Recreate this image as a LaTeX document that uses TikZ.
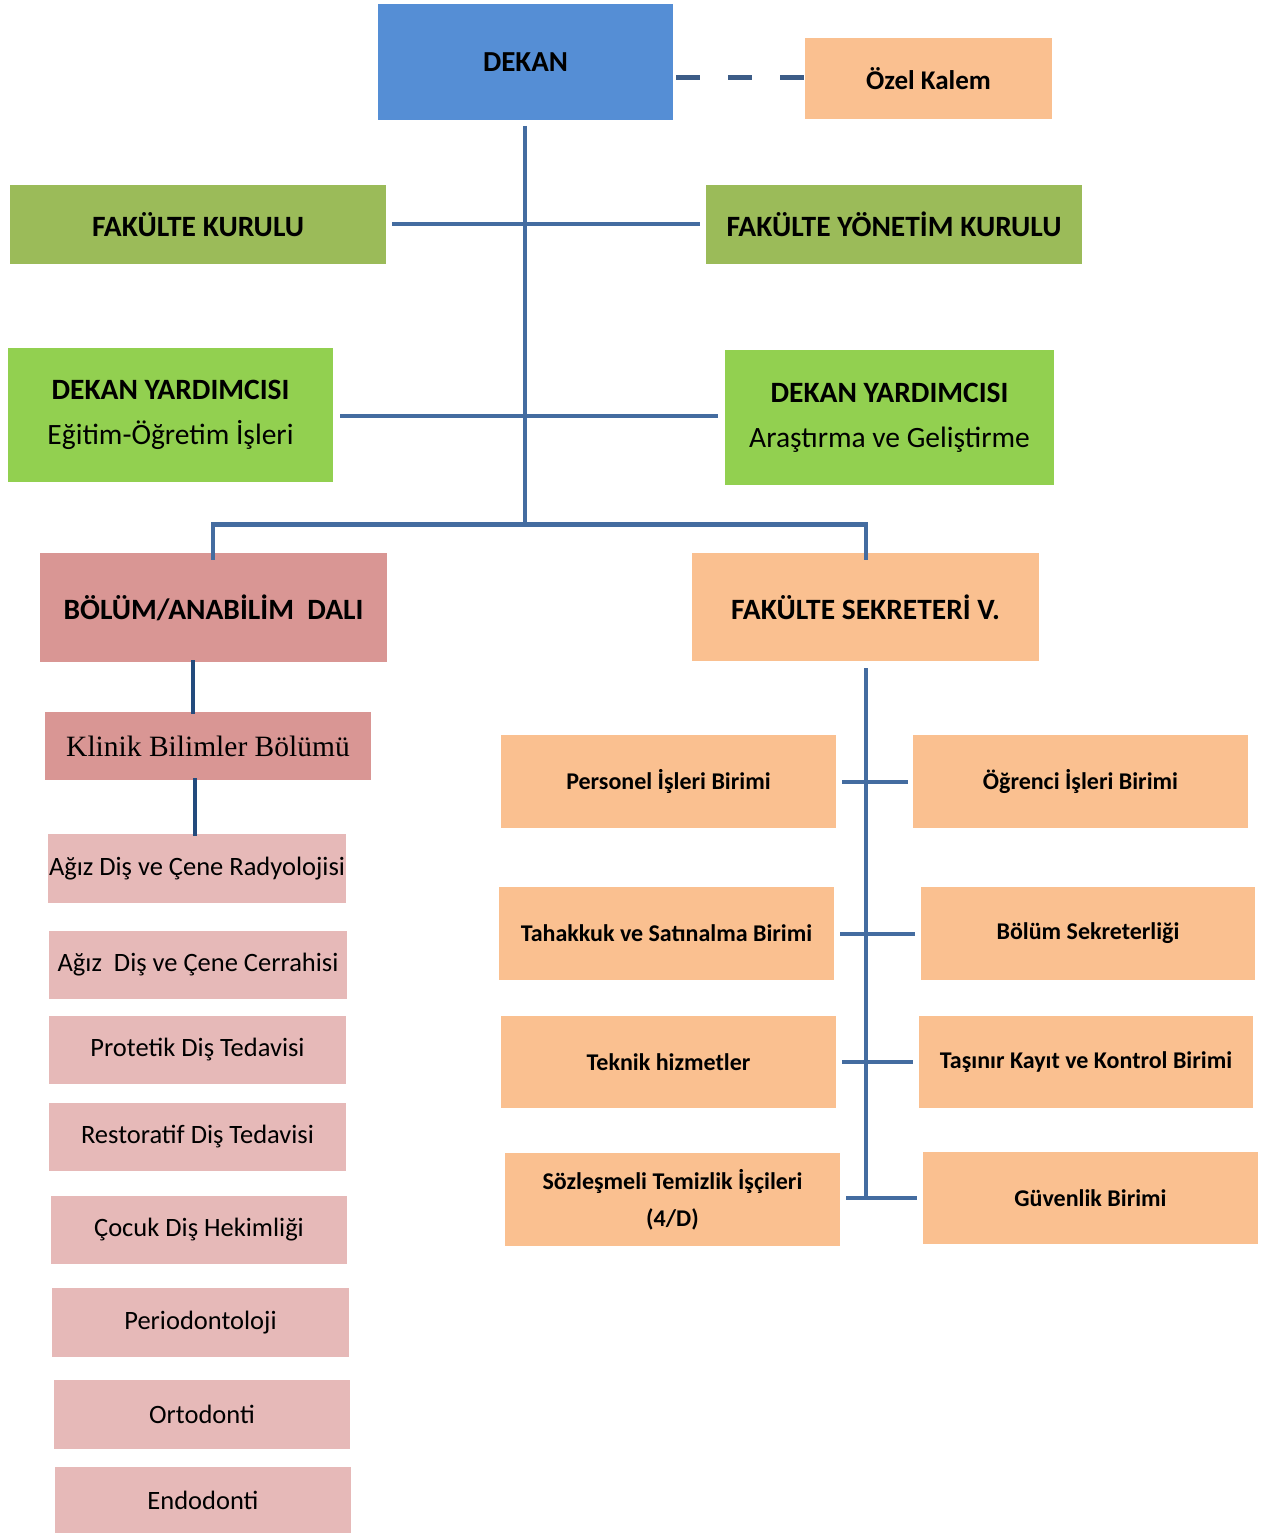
\documentclass[tikz,border=0pt]{standalone}
\usepackage{fontspec}
\setmainfont{Carlito}
\newfontfamily\serifk{Liberation Serif}
\definecolor{cblue}{RGB}{85,142,213}
\definecolor{corange}{RGB}{250,192,144}
\definecolor{colive}{RGB}{155,187,89}
\definecolor{cgreen}{RGB}{146,208,80}
\definecolor{crose}{RGB}{217,150,148}
\definecolor{cpink}{RGB}{230,185,184}
\definecolor{cline}{RGB}{68,108,160}
\definecolor{cnavy}{RGB}{35,75,125}
\definecolor{cdash}{RGB}{60,92,135}
\tikzset{
  base/.style={inner sep=0pt, outer sep=0pt, align=center, text=black},
  conn/.style={draw=cline, line width=4.5pt},
  navyconn/.style={draw=cnavy, line width=4.5pt},
  bigb/.style={font=\fontsize{29.5}{34}\selectfont\bfseries},
  pinkt/.style={fill=cpink,font=\fontsize{26.5}{30}\selectfont},
  orat/.style={fill=corange,font=\fontsize{24}{37}\selectfont\bfseries},
}
\newcommand{\bx}[7]{%
  \node[base,#6,minimum width={#4-#2},minimum height={#5-#3}] (#1) at ({(#2+#4)/2},{(#3+#5)/2}) {#7};}
\begin{document}
\begin{tikzpicture}[x=1pt,y=-1pt]
\fill[white] (0,0) rectangle (1270,1533);
\useasboundingbox (0,0) rectangle (1270,1533);
% top
\bx{dekan}{378}{4}{673}{120}{fill=cblue,font=\fontsize{29}{34}\selectfont\bfseries}{DEKAN}
\bx{ozel}{805}{38}{1052}{119}{fill=corange,font=\fontsize{27}{32}\selectfont\bfseries}{Özel Kalem}
\bx{fk}{10}{185}{386}{264}{fill=colive,bigb}{FAKÜLTE KURULU}
\bx{fyk}{706}{185}{1082}{264}{fill=colive,bigb}{FAKÜLTE YÖNETİM KURULU}
\bx{dyl}{8}{348}{333}{482}{fill=cgreen,font=\fontsize{29.5}{45}\selectfont}{\textbf{DEKAN YARDIMCISI}\\Eğitim-Öğretim İşleri}
\bx{dyr}{725}{350}{1054}{485}{fill=cgreen,font=\fontsize{29.5}{45}\selectfont}{\textbf{DEKAN YARDIMCISI}\\Araştırma ve Geliştirme}
\bx{bolum}{40}{553}{387}{662}{fill=crose,bigb}{BÖLÜM/ANABİLİM\ \ DALI}
\bx{sekr}{692}{553}{1039}{661}{fill=corange,bigb}{FAKÜLTE SEKRETERİ V.}
\bx{klinik}{45}{712}{371}{780}{fill=crose,font=\serifk\fontsize{29.5}{34}\selectfont}{Klinik Bilimler Bölümü}
% left list
\bx{p1}{48}{834}{346}{903}{pinkt}{Ağız Diş ve Çene Radyolojisi}
\bx{p2}{49}{931}{347}{999}{pinkt}{Ağız\ \ Diş ve Çene Cerrahisi}
\bx{p3}{49}{1016}{346}{1084}{pinkt}{Protetik Diş Tedavisi}
\bx{p4}{49}{1103}{346}{1171}{pinkt}{Restoratif Diş Tedavisi}
\bx{p5}{51}{1196}{347}{1264}{pinkt}{Çocuk Diş Hekimliği}
\bx{p6}{52}{1288}{349}{1357}{pinkt}{Periodontoloji}
\bx{p7}{54}{1380}{350}{1449}{pinkt}{Ortodonti}
\bx{p8}{55}{1467}{351}{1533}{pinkt}{Endodonti}
% right list
\bx{o1}{501}{735}{836}{828}{orat}{Personel İşleri Birimi}
\bx{o2}{913}{735}{1248}{828}{orat}{Öğrenci İşleri Birimi}
\bx{o3}{499}{887}{834}{980}{orat}{Tahakkuk ve Satınalma Birimi}
\bx{o4}{921}{887}{1255}{980}{orat}{Bölüm Sekreterliği}
\bx{o5}{501}{1016}{836}{1108}{orat}{Teknik hizmetler}
\bx{o6}{919}{1016}{1253}{1108}{orat}{Taşınır Kayıt ve Kontrol Birimi}
\bx{o7}{505}{1153}{840}{1246}{orat}{Sözleşmeli Temizlik İşçileri\\(4/D)}
\bx{o8}{923}{1152}{1258}{1244}{orat}{Güvenlik Birimi}
% junction coordinates
\coordinate (jtop) at (525,126);
\coordinate (jfk) at (525,224);
\coordinate (jdy) at (525,416);
\coordinate (jbar) at (525,522);
\coordinate (jbl) at (213,522);
\coordinate (jbr) at (866,522);
\coordinate (ssplit) at (866,668);
\coordinate (s1) at (866,782);
\coordinate (s2) at (866,934);
\coordinate (s3) at (866,1062);
\coordinate (s4) at (866,1198);
% connectors
\draw[draw=cdash, line width=5pt, dash pattern=on 24pt off 28pt] ([xshift=3pt]dekan.east |- 0,78) -- (ozel.west |- 0,78);
\draw[conn] (jtop) -- (jbar);
\draw[conn] ([xshift=6pt]fk.east |- jfk) -- ([xshift=-6pt]fyk.west |- jfk);
\draw[conn] ([xshift=7pt]dyl.east |- jdy) -- ([xshift=-7pt]dyr.west |- jdy);
\draw[conn] ([yshift=-2.25pt]jbl) -- ([yshift=-2.25pt]jbr);
\draw[conn] (jbl) -- ([yshift=-7pt]jbl |- bolum.north);
\draw[conn] (jbr) -- ([yshift=-7pt]jbr |- sekr.north);
\draw[navyconn] ([yshift=2pt]bolum.south -| 193,0) -- ([yshift=-2pt]klinik.north -| 193,0);
\draw[navyconn] ([yshift=2pt]klinik.south -| 195,0) -- ([yshift=-2pt]p1.north -| 195,0);
\draw[conn] (ssplit) -- (s4);
\draw[conn] ([xshift=6pt]o1.east |- s1) -- ([xshift=-5pt]o2.west |- s1);
\draw[conn] ([xshift=6pt]o3.east |- s2) -- ([xshift=-6pt]o4.west |- s2);
\draw[conn] ([xshift=6pt]o5.east |- s3) -- ([xshift=-6pt]o6.west |- s3);
\draw[conn] ([xshift=6pt]o7.east |- s4) -- ([xshift=-6pt]o8.west |- s4);
\end{tikzpicture}
\end{document}
